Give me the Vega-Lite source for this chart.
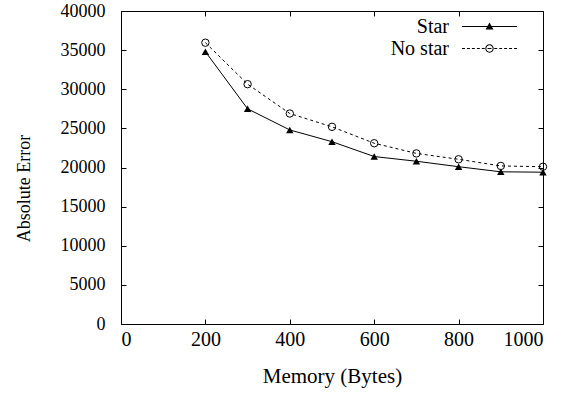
{
  "$schema": "https://vega.github.io/schema/vega-lite/v6.json",
  "width": 422,
  "height": 313,
  "autosize": {"type": "none"},
  "padding": {"left": 121, "top": 11, "right": 32, "bottom": 71},
  "background": "white",
  "config": {
    "view": {"stroke": "black", "strokeWidth": 1},
    "font": "Liberation Serif",
    "axis": {
      "domain": false,
      "grid": false,
      "tickColor": "black",
      "tickSize": -5,
      "tickWidth": 1,
      "labelFont": "Liberation Serif",
      "labelFontSize": 18,
      "labelColor": "black",
      "titleFont": "Liberation Serif",
      "titleFontSize": 18,
      "titleFontWeight": "normal",
      "titleColor": "black"
    }
  },
  "data": {
    "values": [
      {"memory": 200, "error": 34800, "series": "Star"},
      {"memory": 300, "error": 27500, "series": "Star"},
      {"memory": 400, "error": 24800, "series": "Star"},
      {"memory": 500, "error": 23300, "series": "Star"},
      {"memory": 600, "error": 21400, "series": "Star"},
      {"memory": 700, "error": 20800, "series": "Star"},
      {"memory": 800, "error": 20100, "series": "Star"},
      {"memory": 900, "error": 19450, "series": "Star"},
      {"memory": 1000, "error": 19400, "series": "Star"},
      {"memory": 200, "error": 35950, "series": "No star"},
      {"memory": 300, "error": 30650, "series": "No star"},
      {"memory": 400, "error": 26900, "series": "No star"},
      {"memory": 500, "error": 25200, "series": "No star"},
      {"memory": 600, "error": 23100, "series": "No star"},
      {"memory": 700, "error": 21800, "series": "No star"},
      {"memory": 800, "error": 21050, "series": "No star"},
      {"memory": 900, "error": 20200, "series": "No star"},
      {"memory": 1000, "error": 20100, "series": "No star"}
    ]
  },
  "layer": [
    {
      "transform": [{"filter": "datum.series === 'Star'"}],
      "mark": {"type": "line", "color": "black", "strokeWidth": 1},
      "encoding": {
        "x": {
          "field": "memory", "type": "quantitative",
          "scale": {"domain": [0, 1000], "nice": false, "zero": false},
          "axis": {"orient": "bottom", "values": [0, 200, 400, 600, 800, 1000], "format": "d", "title": "Memory (Bytes)", "labelFontSize": 20, "labelPadding": 10.5, "titleFontSize": 21, "titlePadding": 16}
        },
        "y": {
          "field": "error", "type": "quantitative",
          "scale": {"domain": [0, 40000], "nice": false},
          "axis": {"orient": "left", "values": [0, 5000, 10000, 15000, 20000, 25000, 30000, 35000, 40000], "format": "d", "title": "Absolute Error", "labelPadding": 21, "titlePadding": 27, "titleY": 177}
        }
      }
    },
    {
      "transform": [{"filter": "datum.series === 'No star'"}],
      "mark": {"type": "line", "color": "black", "strokeWidth": 1, "strokeDash": [3, 3]},
      "encoding": {
        "x": {"field": "memory", "type": "quantitative", "axis": null},
        "y": {"field": "error", "type": "quantitative", "axis": null}
      }
    },
    {
      "transform": [{"filter": "datum.series === 'Star'"}],
      "mark": {"type": "point", "shape": "triangle-up", "filled": true, "color": "black", "size": 55, "opacity": 1},
      "encoding": {
        "x": {
          "field": "memory", "type": "quantitative",
          "axis": {"orient": "top", "values": [0, 200, 400, 600, 800, 1000], "labels": false, "title": null}
        },
        "y": {
          "field": "error", "type": "quantitative",
          "axis": {"orient": "right", "values": [0, 5000, 10000, 15000, 20000, 25000, 30000, 35000, 40000], "labels": false, "title": null}
        }
      }
    },
    {
      "transform": [{"filter": "datum.series === 'No star'"}],
      "mark": {"type": "point", "shape": "circle", "filled": false, "stroke": "black", "strokeWidth": 1, "size": 55, "opacity": 1},
      "encoding": {
        "x": {"field": "memory", "type": "quantitative", "axis": null},
        "y": {"field": "error", "type": "quantitative", "axis": null}
      }
    },
    {
      "mark": {"type": "point", "filled": true, "fill": "black", "size": 1, "opacity": 0},
      "encoding": {
        "x": {"field": "memory", "type": "quantitative", "axis": null},
        "y": {"field": "error", "type": "quantitative", "axis": null},
        "shape": {
          "field": "series", "type": "nominal",
          "scale": {
            "domain": ["Star", "No star"],
            "range": [
              "M-2.5,-0.045H2.5V0.045H-2.5ZM0,-0.36L0.36,0.27L-0.36,0.27Z",
              "M-2.5,-0.045H-2.23V0.045H-2.5ZM-2.05,-0.045H-1.78V0.045H-2.05ZM-1.6,-0.045H-1.33V0.045H-1.6ZM-1.15,-0.045H-0.88V0.045H-1.15ZM-0.7,-0.045H-0.43V0.045H-0.7ZM0.43,-0.045H0.7V0.045H0.43ZM0.88,-0.045H1.15V0.045H0.88ZM1.33,-0.045H1.6V0.045H1.33ZM1.78,-0.045H2.05V0.045H1.78ZM2.23,-0.045H2.5V0.045H2.23ZM-0.18,-0.045H0.18V0.045H-0.18ZM0.38,0A0.38,0.38 0 1 1 -0.38,0A0.38,0.38 0 1 1 0.38,0ZM0.29,0A0.29,0.29 0 1 0 -0.29,0A0.29,0.29 0 1 0 0.29,0Z"
            ]
          },
          "legend": {
            "orient": "none",
            "legendX": 357.5,
            "legendY": 4.5,
            "title": null,
            "padding": 0,
            "symbolSize": 484,
            "symbolOpacity": 1,
            "symbolFillColor": "black",
            "symbolStrokeWidth": 0,
            "rowPadding": 1,
            "labelAlign": "right",
            "labelOffset": -51.5,
            "labelFont": "Liberation Serif",
            "labelFontSize": 20,
            "labelColor": "black",
            "labelLimit": 200
          }
        }
      }
    }
  ],
  "resolve": {"axis": {"x": "independent", "y": "independent"}}
}
